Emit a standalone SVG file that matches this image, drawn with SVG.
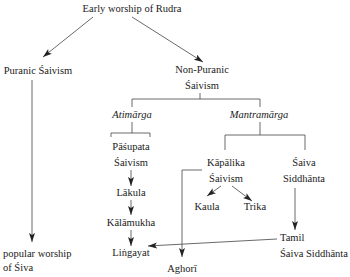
<svg xmlns="http://www.w3.org/2000/svg" width="350" height="277" viewBox="0 0 350 277">
<style>
text{font-family:"Liberation Serif","DejaVu Serif",serif;font-size:10.5px;fill:#1a1a1a}
.c{text-anchor:middle}
.i{font-style:italic}
.ln{fill:none;stroke:#444;stroke-width:0.8}
.ar{marker-end:url(#ah)}
</style>
<defs>
<marker id="ah" markerUnits="userSpaceOnUse" markerWidth="10" markerHeight="7" refX="9" refY="3" orient="auto">
<path d="M0,0 L9,3 L0,6 L2,3 z" fill="#222"/>
</marker>
</defs>
<rect width="350" height="277" fill="#fff"/>
<g id="connectors">
<line class="ln ar" x1="93" y1="17" x2="43" y2="57"/>
<line class="ln ar" x1="132" y1="17" x2="203" y2="62"/>
<line class="ln ar" x1="32" y1="80" x2="32" y2="242"/>
<path class="ln" d="M200,93 V99 M132,107 V99 H260 V107"/>
<path class="ln" d="M132,122 V133 M111,137 V133 H150 V137"/>
<path class="ln" d="M260,122 V135 M225,150 V135 H305 V150"/>
<line class="ln ar" x1="131" y1="170" x2="131" y2="186"/>
<line class="ln ar" x1="131" y1="200" x2="131" y2="215"/>
<line class="ln ar" x1="131" y1="230" x2="131" y2="246"/>
<path class="ln ar" d="M202,170 H182 V257"/>
<line class="ln ar" x1="221" y1="186" x2="207" y2="196"/>
<line class="ln ar" x1="232" y1="186" x2="252" y2="201"/>
<line class="ln ar" x1="295" y1="188" x2="295" y2="230"/>
<line class="ln ar" x1="277" y1="239" x2="148" y2="246"/>
</g>
<g id="n-rudra"><text class="c" x="132" y="12">Early worship of Rudra</text></g>
<g id="n-puranic"><text class="c" x="38" y="74">Puranic Śaivism</text></g>
<g id="n-nonpuranic"><text class="c" x="202" y="73">Non-Puranic</text><text class="c" x="202" y="89">Śaivism</text></g>
<g id="n-atimarga"><text class="c i" x="132" y="118">Atimārga</text></g>
<g id="n-mantramarga"><text class="c i" x="259" y="118">Mantramārga</text></g>
<g id="n-pasupata"><text class="c" x="131" y="150">Pāśupata</text><text class="c" x="131" y="166">Śaivism</text></g>
<g id="n-lakula"><text class="c" x="131" y="196">Lākula</text></g>
<g id="n-kalamukha"><text class="c" x="131" y="226">Kālāmukha</text></g>
<g id="n-lingayat"><text class="c" x="131" y="256">Liṅgayat</text></g>
<g id="n-kapalika"><text class="c" x="226" y="166">Kāpālika</text><text class="c" x="226" y="182">Śaivism</text></g>
<g id="n-siddhanta"><text class="c" x="304" y="166">Śaiva</text><text class="c" x="304" y="182">Siddhānta</text></g>
<g id="n-kaula"><text class="c" x="207" y="210">Kaula</text></g>
<g id="n-trika"><text class="c" x="255" y="210">Trika</text></g>
<g id="n-tamil"><text x="280" y="241">Tamil</text><text x="280" y="257">Śaiva Siddhānta</text></g>
<g id="n-popular"><text x="3" y="257">popular worship</text><text x="3" y="271">of Śiva</text></g>
<g id="n-aghori"><text class="c" x="182" y="272">Aghorī</text></g>
</svg>
